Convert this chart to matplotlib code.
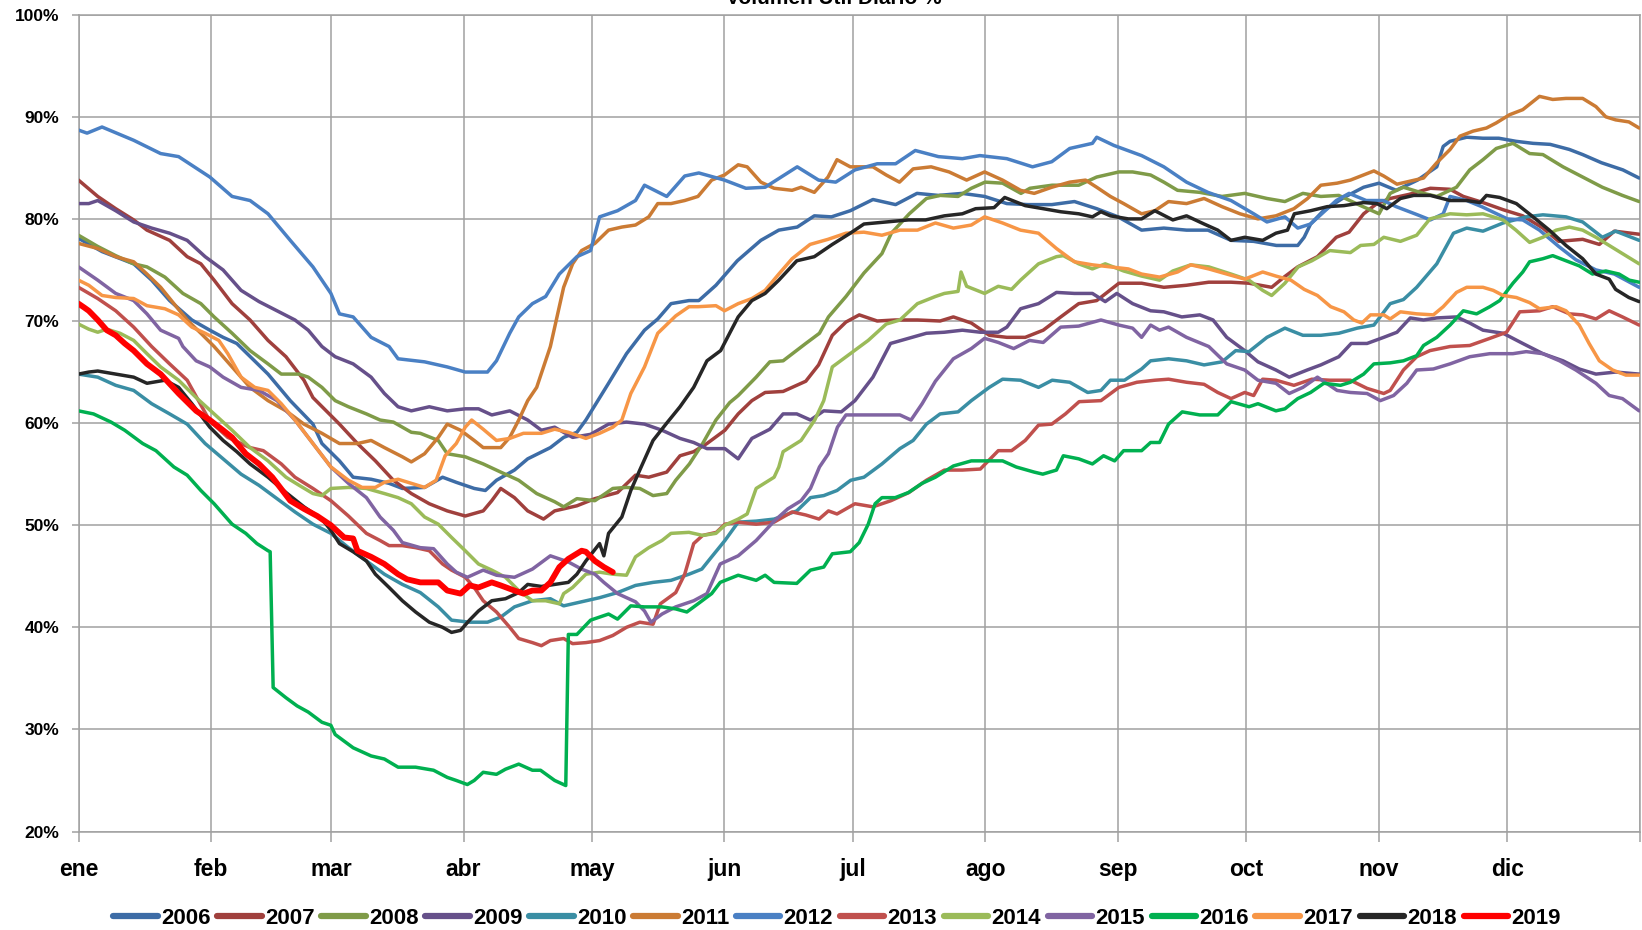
import matplotlib
matplotlib.use("Agg")
import matplotlib.pyplot as plt

plt.rcParams['font.family'] = ['Liberation Sans', 'DejaVu Sans']

MONTH_LABELS = ["ene", "feb", "mar", "abr", "may", "jun", "jul", "ago", "sep", "oct", "nov", "dic"]
MONTH_STARTS = [0, 31, 59, 90, 120, 151, 181, 212, 243, 273, 304, 334]
YEAR_END = 365
Y_TICKS = [20, 30, 40, 50, 60, 70, 80, 90, 100]

# (day of year, % volume)
S2006 = [(0,78.1),(5.5,76.8),(12.9,75.6),(17.1,74.0),(21.3,72.0),(26.5,70.1),(30.7,69.1),(33.8,68.4),(37,67.8),(44.3,64.8),
         (49.5,62.2),(54.8,59.9),(56.9,58.0),(61,56.3),(64.2,54.7),(68.4,54.5),(72.6,54.1),(75.7,53.6),(80.9,53.7),(85.1,54.7),
         (88.3,54.2),(92.5,53.6),(95.1,53.4),(97.7,54.4),(101.9,55.4),(105,56.5),(110.3,57.6),(113.4,58.6),(116.5,59.1),(118.6,60.3),
         (123.9,63.9),(128.1,66.8),(132.3,69.1),(135.4,70.2),(138.5,71.7),(142.7,72.0),(145,72.0),(149,73.5),(154,75.9),(159.5,77.9),
         (163.7,78.9),(168,79.2),(172,80.3),(176,80.2),(180.4,80.8),(185.7,81.9),(191,81.4),(196,82.5),(201,82.3),(206.6,82.5),
         (211.8,82.2),(217,81.5),(222,81.4),(227.5,81.4),(232.8,81.7),(238,81.0),(243,80.2),(248.5,78.9),(253.7,79.1),(259,78.9),
         (264,78.9),(269.4,77.9),(274.7,77.8),(280,77.4),(285,77.4),(286.5,78.2),(288,79.5),(291,80.8),(295.8,82.1),(300.4,83.1),
         (304,83.5),(308,82.8),(313,83.8),(317.5,85.1),(319,87.1),(320.6,87.6),(324.5,88.0),(328.3,87.9),(332,87.9),(336,87.6),
         (340,87.4),(344,87.3),(348.5,86.8),(351.6,86.3),(356,85.5),(361,84.8),(364.8,84.0)]

S2007 = [(0,83.8),(4.5,82.2),(8.7,81.0),(12.9,79.9),(16,78.9),(21.3,77.9),(25.4,76.3),(28.6,75.6),(31.7,74.0),(35.9,71.7),
         (40.1,70.1),(44.3,68.1),(48.5,66.5),(52.7,64.2),(54.8,62.5),(61,59.9),(65.2,58.0),(69.4,56.3),(73.6,54.4),(77.8,53.1),
         (82,52.1),(86.2,51.4),(90.4,50.9),(94.6,51.4),(96.6,52.4),(98.7,53.6),(101.9,52.7),(105,51.4),(108.7,50.6),(111.3,51.4),
         (116.5,51.9),(120.7,52.6),(126,53.2),(130.2,54.9),(133.3,54.7),(137.5,55.2),(140.6,56.8),(143.8,57.2),(146.9,58.0),(151.1,59.3),
         (154.2,60.9),(157.4,62.2),(160.5,63.0),(164.7,63.1),(170,64.1),(173,65.7),(176.2,68.6),(179.4,69.9),(182.5,70.6),(186.7,70.0),
         (190.9,70.1),(196.1,70.1),(201.4,70.0),(204.5,70.4),(208.7,69.8),(212.9,68.6),(217,68.4),(221.3,68.4),(225.5,69.1),(229.6,70.4),
         (233.8,71.7),(238,72.0),(243.2,73.7),(248.5,73.7),(253.7,73.3),(259,73.5),(264.2,73.8),(269.4,73.8),(273.6,73.7),(278.9,73.3),
         (281.8,74.3),(285,75.3),(289.6,76.3),(294,78.2),(297,78.7),(300.4,80.5),(303.5,81.5),(306.6,82.0),(311,82.4),(316,83.0),
         (320.6,82.9),(323.7,82.2),(328.3,81.6),(333,80.9),(337.6,80.3),(342.3,79.1),(346,77.8),(351.6,78.0),(355.5,77.5),(359,78.8),
         (364.8,78.5)]

S2008 = [(0,78.4),(4.5,77.3),(8.7,76.4),(12.9,75.6),(16,75.3),(20.2,74.3),(24.4,72.7),(28.6,71.7),(31.7,70.4),(35.9,68.8),
         (40.1,67.1),(44.3,65.8),(47.4,64.8),(51.6,64.8),(53.7,64.5),(56.9,63.5),(60,62.2),(63.1,61.6),(67.3,60.9),(70.5,60.3),
         (73.6,60.1),(77.8,59.1),(79.9,59.0),(84.1,58.3),(86.2,57.0),(90.4,56.7),(94.6,56.0),(98.7,55.2),(102.9,54.4),(107.1,53.1),
         (111.3,52.3),(113.4,51.8),(116.5,52.6),(120.7,52.4),(124.9,53.6),(128.1,53.7),(131.2,53.6),(134.3,52.9),(137.5,53.1),(139.6,54.4),
         (142.8,56.0),(145.9,58.0),(149,60.3),(152.2,62.0),(154.2,62.7),(158.4,64.5),(161.6,66.0),(164.7,66.1),(170,67.8),(173.2,68.8),
         (175.3,70.4),(179.4,72.4),(183.6,74.7),(187.8,76.6),(190,78.6),(194.2,80.5),(198.2,82.0),(201.4,82.3),(205.6,82.2),(208.7,83.0),
         (211.9,83.6),(216,83.5),(220.3,82.5),(222.4,83.0),(227.6,83.3),(233.8,83.3),(238,84.1),(243.2,84.6),(246.4,84.6),(250.6,84.3),
         (253.7,83.6),(256.9,82.8),(262.1,82.6),(267.3,82.2),(272.6,82.5),(277.8,82.0),(282,81.7),(286.2,82.5),(290.4,82.2),(294.6,82.3),
         (299.7,81.3),(304,80.5),(306.6,82.5),(309.7,83.1),(314.4,82.5),(317.5,82.2),(322.1,83.1),(325.2,84.8),(328.3,85.8),(331.4,86.9),
         (335.3,87.4),(339.2,86.4),(342.3,86.3),(347,85.1),(351.6,84.1),(356.2,83.1),(360.9,82.3),(364.8,81.7)]

S2009 = [(0,81.5),(2.4,81.5),(4.5,81.8),(8.7,80.8),(12.9,79.7),(17.1,79.1),(21.3,78.6),(25.4,77.9),(29.6,76.3),(33.8,75.0),
         (38,73.0),(42.2,71.9),(46.4,71.0),(50.6,70.1),(53.7,69.1),(56.9,67.5),(60,66.5),(64.2,65.8),(68.4,64.5),(71.5,62.9),
         (74.7,61.6),(77.8,61.2),(82,61.6),(86.2,61.2),(90.4,61.4),(93.5,61.4),(96.6,60.8),(100.8,61.2),(105,60.3),(108.2,59.3),
         (111.3,59.6),(115.5,58.6),(119.7,58.9),(123.9,59.9),(128.1,60.1),(132.3,59.9),(136.4,59.3),(140.6,58.5),(143.8,58.1),(146.9,57.5),
         (151.1,57.5),(154.2,56.5),(157.4,58.5),(161.6,59.4),(164.7,60.9),(167.9,60.9),(171.1,60.3),(174.2,61.2),(178.3,61.1),(181.5,62.2),
         (185.7,64.5),(189.8,67.8),(194,68.3),(198.2,68.8),(202.4,68.9),(206.6,69.1),(210.8,68.9),(215,68.9),(217,69.4),(220.2,71.2),
         (224.4,71.7),(228.6,72.8),(232.8,72.7),(237,72.7),(240,71.9),(242.7,72.7),(246.4,71.7),(250.6,71.0),(253.7,70.9),(257.9,70.4),
         (262.1,70.6),(265.2,70.1),(268.4,68.4),(272.6,67.1),(275.7,66.0),(279.9,65.2),(283,64.5),(287.2,65.2),(290.4,65.7),(294.6,66.5),
         (297.5,67.8),(301.2,67.8),(305.1,68.4),(308.2,68.9),(311.3,70.3),(314.4,70.1),(317.5,70.3),(322.1,70.4),(325.2,69.8),(328.3,69.1),
         (333,68.8),(337.6,67.8),(342.3,66.8),(347,66.1),(350.8,65.3),(354.7,64.8),(359.3,65.0),(364.8,64.8)]

S2010 = [(0,64.8),(4.5,64.5),(8.7,63.7),(12.9,63.2),(17.1,61.9),(21.3,60.9),(25.4,59.9),(29.6,58.0),(33.8,56.5),(38,55.0),
         (42.2,53.9),(46.4,52.6),(50.6,51.3),(54.8,50.1),(59,49.2),(63.1,47.8),(67.3,46.5),(71.5,45.2),(75.7,44.2),(79.9,43.4),
         (84.1,42.0),(87.2,40.7),(91.4,40.5),(95.6,40.5),(98.7,41.0),(101.9,42.0),(106.1,42.6),(110.3,42.8),(113.4,42.1),(117.6,42.5),
         (121.8,42.9),(126,43.4),(130.2,44.1),(134.3,44.4),(138.5,44.6),(142.7,45.2),(145.7,45.7),(148,46.9),(151.1,48.5),(154.2,50.3),
         (158.4,50.4),(162.6,50.6),(167.9,51.4),(171.1,52.7),(174.2,52.9),(177.3,53.4),(180.5,54.4),(183.6,54.7),(187.8,56.0),(192,57.5),
         (195.1,58.3),(198.2,59.9),(201.4,60.9),(205.6,61.1),(208.7,62.2),(212.9,63.5),(216,64.3),(220.2,64.2),(224.4,63.5),(227.6,64.2),
         (231.7,64.0),(235.9,63.0),(239,63.2),(241.2,64.2),(244.5,64.2),(248.5,65.3),(250.6,66.1),(254.8,66.3),(259,66.1),(263.1,65.7),
         (267.3,66.0),(270.5,67.1),(273.6,67.0),(277.8,68.4),(282,69.3),(286.2,68.6),(290.4,68.6),(294.6,68.8),(298.9,69.3),(302.8,69.6),
         (306.6,71.7),(309.7,72.1),(312.8,73.3),(317.5,75.6),(321.4,78.6),(324.5,79.1),(328.3,78.8),(333,79.6),(338.4,80.2),(342.3,80.4),
         (347.7,80.2),(351.6,79.7),(356.2,78.2),(359.3,78.8),(364.8,77.9)]

S2011 = [(0,77.6),(4.5,77.1),(8.7,76.3),(12.9,75.8),(16,74.6),(19.2,73.3),(22.3,71.7),(25.4,70.1),(28.6,68.8),(31.7,67.5),
         (35.9,65.5),(40.1,63.5),(44.3,62.2),(48.5,61.2),(52.7,59.9),(56.9,59.0),(61,58.0),(65.2,58.0),(68.4,58.3),(71.5,57.6),
         (75.7,56.7),(77.8,56.2),(80.9,57.0),(84.1,58.6),(86.2,59.9),(89.3,59.3),(92.5,58.3),(94.6,57.6),(98.7,57.6),(100.8,58.6),
         (102.9,60.3),(105,62.2),(107.1,63.5),(110.3,67.5),(113.4,73.3),(115.5,75.6),(117.6,76.9),(120.7,77.6),(123.9,78.9),(127,79.2),
         (130.2,79.4),(133.3,80.2),(135.4,81.5),(138.5,81.5),(141.7,81.8),(144.8,82.2),(148,83.8),(151,84.3),(154.2,85.3),(156.3,85.1),
         (159.5,83.6),(162.6,83.0),(166.8,82.8),(168.9,83.1),(172,82.6),(175.2,84.1),(177.3,85.8),(180.4,85.1),(185.7,85.1),(188.8,84.3),
         (191.9,83.6),(195.1,84.9),(199.3,85.1),(203.5,84.6),(207.6,83.8),(211.8,84.6),(216,83.8),(220.2,82.8),(223.4,82.5),(227.5,83.1),
         (231.7,83.6),(235.4,83.8),(238,83.1),(241.2,82.2),(244.3,81.5),(248.5,80.5),(251.6,80.8),(254.8,81.7),(259,81.5),(263.1,82.0),
         (267.3,81.2),(271.5,80.5),(275.7,80.0),(279.9,80.3),(284.1,81.0),(287.3,82.0),(290.4,83.3),(294.2,83.5),(297.3,83.8),(302.8,84.7),
         (305.1,84.2),(308.2,83.4),(311.3,83.7),(314.4,84.0),(317.5,85.5),(320.6,86.8),(322.9,88.1),(326,88.6),(329.1,88.9),(331.4,89.4),
         (334.5,90.2),(337.6,90.7),(341.5,92.0),(344.6,91.7),(347.7,91.8),(351.6,91.8),(354.7,91.0),(357,90.0),(359.3,89.7),(362.4,89.5),
         (364.8,88.9)]

S2012 = [(0,88.7),(2,88.4),(5.5,89.0),(12.9,87.7),(19.2,86.4),(23.4,86.1),(30.7,84.1),(35.9,82.2),(40.1,81.8),(44.3,80.5),
         (49.5,77.9),(54.8,75.3),(59,72.7),(61,70.7),(64.2,70.4),(68.4,68.4),(72.6,67.5),(74.7,66.3),(80.9,66.0),(86.2,65.5),
         (90.4,65.0),(95.6,65.0),(97.7,66.1),(100.8,68.8),(102.9,70.4),(106.1,71.7),(109.2,72.4),(112.4,74.6),(116.5,76.3),(119.7,76.9),
         (121.8,80.2),(126,80.8),(130.2,81.8),(132.3,83.3),(137.5,82.2),(141.7,84.2),(145,84.5),(151,83.8),(156,83.0),(160.5,83.1),
         (168,85.1),(173,83.8),(177,83.6),(181.5,84.8),(186.7,85.4),(191,85.4),(195.6,86.7),(201,86.1),(206.6,85.9),(210.7,86.2),
         (217,85.9),(223,85.1),(227.5,85.6),(231.7,86.9),(237,87.4),(238,88.0),(242,87.2),(248.5,86.2),(253.7,85.1),(259,83.6),
         (264,82.6),(269.4,81.8),(274.7,80.5),(277.8,79.7),(282,80.2),(285,79.1),(288,79.5),(294,81.8),(297,82.5),(301,81.8),
         (305,81.8),(308,81.2),(313,80.4),(316,79.9),(319,80.5),(320.6,82.2),(324.5,81.8),(328,81.2),(334,80.0),(337.6,79.9),
         (341.5,78.9),(346,77.3),(350,76.0),(354.7,75.0),(359,74.6),(364.8,73.3)]

S2013 = [(0,73.3),(4.5,72.2),(8.7,71.0),(12.9,69.4),(17.1,67.5),(21.3,65.8),(25.4,64.2),(30.7,60.2),(34.9,58.6),(40.1,57.6),
         (43.2,57.3),(47.4,56.0),(50.6,54.7),(54.8,53.6),(59,52.4),(63.1,50.9),(67.3,49.2),(70.5,48.5),(72.6,48.0),(75.7,48.0),
         (78.8,47.8),(82,47.5),(85.1,46.2),(87.2,45.6),(90.4,44.9),(92.5,43.9),(94.6,42.6),(97.7,41.5),(100.8,40.0),(102.9,38.9),
         (106.1,38.5),(108.2,38.2),(110.3,38.7),(113.4,38.9),(115.5,38.4),(118.6,38.5),(121.8,38.7),(124.9,39.2),(128.1,40.0),(131.2,40.5),
         (134.3,40.3),(136,42.3),(139.6,43.4),(141.7,45.2),(143.8,48.2),(145.9,49.0),(149.1,49.3),(151.1,50.1),(154.2,50.3),(158.4,50.1),
         (162.6,50.3),(166.8,51.3),(170,51.0),(173.1,50.6),(175.3,51.4),(177.3,51.1),(179.4,51.6),(181.5,52.1),(185.7,51.8),(189.9,52.4),
         (194.1,53.2),(198.2,54.4),(202.4,55.4),(206.6,55.4),(210.8,55.5),(215,57.3),(218.1,57.3),(221.3,58.3),(224.4,59.8),(227.5,59.9),
         (230.7,60.9),(233.9,62.1),(239,62.2),(243.2,63.5),(247.4,64.0),(251.6,64.2),(254.8,64.3),(259,64.0),(263.1,63.8),(266.3,63.0),
         (269.4,62.4),(272.6,63.0),(274.7,62.7),(276.8,64.3),(279.9,64.2),(284.1,63.7),(288.3,64.3),(292.5,64.2),(297.3,64.2),(301.2,63.4),
         (305.1,62.9),(306.6,63.2),(309.7,65.2),(312.8,66.5),(315.9,67.1),(320.6,67.5),(325.2,67.6),(329.9,68.3),(333.8,68.9),(336.9,70.9),
         (341.5,71.0),(344.6,71.4),(348.5,70.7),(351.6,70.6),(354.7,70.2),(357.8,71.0),(360.9,70.4),(364.8,69.6)]

S2014 = [(0,69.7),(2.4,69.2),(4.5,68.9),(6.6,69.2),(9.7,68.8),(12.9,68.1),(16,66.8),(19.2,65.5),(23.4,64.2),(27.5,62.5),
         (31.7,60.9),(35.9,59.3),(40.1,57.6),(44.3,56.3),(48.5,54.7),(51.6,53.9),(54.8,53.1),(56.9,52.9),(59,53.6),(63.1,53.7),
         (67.3,53.6),(71.5,53.1),(74.7,52.7),(77.8,52.1),(80.9,50.8),(84.1,50.1),(87.2,48.8),(90.4,47.5),(93.5,46.2),(96.6,45.6),
         (99.8,44.9),(102.9,43.6),(106.1,42.6),(109.2,42.6),(112.4,42.3),(113.4,43.3),(115.5,43.9),(118.6,45.2),(121.8,45.4),(124.9,45.2),
         (128.1,45.1),(130.2,46.9),(133.3,47.8),(136.4,48.5),(138.5,49.2),(142.7,49.3),(145.9,49.0),(149,49.2),(151.1,50.0),(154.2,50.6),
         (156.3,51.1),(158.4,53.6),(162.6,54.7),(163.7,55.7),(164.7,57.2),(168.9,58.3),(172.1,60.3),(174.2,62.2),(176.2,65.5),(180.4,66.8),
         (184.6,68.1),(188.8,69.7),(192,70.1),(196.1,71.7),(200.3,72.4),(202.4,72.7),(205.6,72.9),(206.3,74.8),(207.6,73.4),(211.8,72.7),
         (215,73.4),(218.1,73.1),(220.2,74.0),(224.4,75.6),(228.6,76.3),(230.2,76.4),(233.8,75.6),(237,75.1),(240,75.6),(244.3,74.9),
         (248.5,74.4),(252.7,74.0),(255.8,74.9),(260,75.5),(264.2,75.3),(269.4,74.6),(273.6,74.0),(276.8,73.0),(278.9,72.5),(282,73.7),
         (285.1,75.3),(288.3,75.9),(292.5,76.9),(297.3,76.7),(299.7,77.4),(302.8,77.5),(305.1,78.2),(309,77.8),(312.8,78.4),(315.9,80.0),
         (320.6,80.5),(324.5,80.4),(328.3,80.5),(333,79.9),(336,78.9),(339.2,77.7),(342.3,78.2),(345.4,78.9),(348.5,79.2),(351.6,78.9),
         (354.7,78.2),(357.8,77.4),(360.9,76.6),(364.8,75.6)]

S2015 = [(0,75.3),(4.5,74.0),(8.7,72.7),(12.9,72.0),(16,70.7),(19.2,69.1),(23.4,68.3),(24.4,67.5),(27.5,66.1),(30.7,65.5),
         (33.8,64.5),(38,63.5),(42.2,63.2),(46.4,62.2),(50.6,60.3),(54.8,58.0),(59,55.7),(63.1,54.1),(67.3,52.7),(70.5,50.8),
         (73.6,49.5),(75.7,48.3),(79.9,47.8),(83,47.7),(86.2,46.2),(88.3,45.4),(90.9,44.9),(94.6,45.6),(97.7,45.1),(101.9,44.9),
         (106.1,45.7),(110.3,47.0),(114.5,46.4),(117.6,45.7),(120.7,45.2),(122.8,44.4),(126,43.3),(130.2,42.5),(132.3,41.6),(133.8,40.5),
         (136.4,41.3),(139.6,42.0),(143.8,42.6),(146.9,43.3),(150,46.2),(154.2,47.0),(158.4,48.5),(162.6,50.4),(165.8,51.6),(168.9,52.4),
         (171.1,53.6),(173.2,55.7),(175.3,57.0),(177.4,59.6),(179.4,60.8),(183.6,60.8),(187.8,60.8),(192,60.8),(194.6,60.3),(197.2,61.9),
         (200.3,64.1),(204.5,66.3),(208.7,67.3),(211.8,68.3),(215,67.9),(218.6,67.3),(222.3,68.1),(225.5,67.9),(229.6,69.4),(233.8,69.5),
         (239,70.1),(243.2,69.6),(246.4,69.3),(248.5,68.4),(250.6,69.6),(252.7,69.1),(254.8,69.4),(259,68.4),(264.2,67.5),(268.4,65.8),
         (272.6,65.2),(275.7,64.2),(279.9,63.9),(283,62.9),(286.2,63.5),(289.6,64.5),(294.2,63.2),(297.3,63.0),(301.2,62.9),(304.3,62.2),
         (307.4,62.7),(310.5,63.9),(312.8,65.2),(316.7,65.3),(320.6,65.8),(325.2,66.5),(329.9,66.8),(335.3,66.8),(338.4,67.0),(342.3,66.8),
         (346.2,66.1),(350,65.2),(354.7,63.9),(357.8,62.7),(360.9,62.4),(364.8,61.2)]

S2016 = [(0,61.2),(3.5,60.9),(7.6,60.1),(10.8,59.3),(15,58.0),(18.1,57.3),(22.3,55.7),(25.4,54.9),(28.6,53.4),(31.7,52.1),
         (35.9,50.1),(39.1,49.2),(41.7,48.2),(44.3,47.5),(44.8,47.4),(45.5,34.1),(48.5,33.1),(51.1,32.3),(53.7,31.7),(56.9,30.7),
         (59,30.4),(60,29.5),(64.2,28.2),(68.4,27.4),(71.5,27.1),(74.7,26.3),(78.8,26.3),(83,26.0),(86.2,25.3),(88.3,25.0),
         (90.9,24.6),(92.5,25.0),(94.6,25.8),(97.7,25.6),(99.8,26.1),(102.9,26.6),(106.1,26.0),(108,26.0),(111.3,25.0),(113.9,24.5),
         (114.5,39.3),(116.5,39.3),(119.7,40.7),(123.9,41.3),(126,40.8),(129.1,42.1),(132.3,42.0),(136.4,42.0),(139.6,41.8),(142.2,41.5),
         (144.8,42.3),(148,43.3),(150,44.4),(154.2,45.1),(158.4,44.6),(160.5,45.1),(162.6,44.4),(167.9,44.3),(171.1,45.6),(174.2,45.9),
         (176.2,47.2),(180.4,47.4),(182.5,48.3),(184.6,50.1),(186.2,52.1),(187.8,52.7),(190.9,52.7),(194,53.2),(197.2,54.1),(200.3,54.7),
         (204.5,55.8),(208.7,56.3),(212.9,56.3),(216,56.3),(219.2,55.7),(223.4,55.2),(225.4,55.0),(228.6,55.4),(230.2,56.8),(233.8,56.5),
         (237,56.0),(239.6,56.8),(242.2,56.3),(244.3,57.3),(248.5,57.3),(250.6,58.1),(252.7,58.1),(254.8,59.9),(258,61.1),(262.1,60.8),
         (266.3,60.8),(269.4,62.1),(273.6,61.6),(275.7,61.9),(279.9,61.2),(282,61.4),(285,62.4),(288,63.0),(291.1,63.9),(295,63.7),
         (297.3,64.0),(300.4,64.8),(302.8,65.8),(306.6,65.9),(309.7,66.1),(312.8,66.6),(314.4,67.6),(317.5,68.4),(320.6,69.6),(323.7,71.0),
         (326.8,70.7),(329.9,71.4),(332.2,72.0),(335.3,73.7),(337.6,74.8),(339.2,75.8),(342.3,76.1),(344.6,76.4),(347.7,75.9),(350.8,75.4),
         (353.9,74.6),(357,74.9),(360.1,74.6),(362.5,74.0),(364.8,73.8)]

S2017 = [(0,74.0),(2.4,73.5),(5.5,72.5),(8.7,72.3),(12.9,72.2),(16,71.5),(20.2,71.2),(23.4,70.6),(26.5,69.4),(29.6,68.8),
         (32.8,68.1),(34.9,66.8),(38,64.5),(41.2,63.5),(44.3,63.2),(47.4,61.9),(50.6,60.3),(54.8,58.0),(59,55.7),(63.1,54.4),
         (66.3,53.7),(69.4,53.7),(71.5,54.2),(74.7,54.5),(77.8,54.1),(80.9,53.7),(83.6,54.4),(85.7,56.8),(88.3,58.0),(90.4,59.6),
         (91.9,60.3),(94.6,59.4),(97.7,58.3),(100.8,58.5),(104,59.0),(108.2,59.0),(111.3,59.4),(114.5,59.1),(118.6,58.5),(121.8,59.0),
         (124.9,59.6),(127,60.3),(129.1,62.9),(132.3,65.5),(135.4,68.8),(139.6,70.5),(142.7,71.4),(144.8,71.4),(149,71.5),(151,71.0),
         (154.2,71.7),(157.4,72.2),(160.5,73.0),(163.7,74.6),(166.8,76.1),(171,77.5),(175.2,78.0),(179.4,78.6),(183.6,78.7),(187.8,78.4),
         (192,78.9),(196.1,78.9),(200.3,79.6),(204.5,79.1),(208.7,79.4),(211.8,80.2),(216,79.6),(220.2,78.9),(224.4,78.6),(228.6,77.1),
         (232.8,75.8),(237,75.5),(241.2,75.3),(245.4,75.1),(248.5,74.6),(252.7,74.3),(256.9,74.8),(260,75.5),(264.2,75.1),(268.4,74.6),
         (272.6,74.1),(276.8,74.8),(279.9,74.4),(283.4,74.0),(286.5,73.1),(289.6,72.5),(292.7,71.4),(295.8,70.9),(298.1,70.1),(300,69.8),
         (302,70.6),(305.1,70.6),(306.6,70.2),(309,70.9),(312.8,70.7),(316.7,70.6),(319,71.4),(322.1,72.8),(324.5,73.3),(328.3,73.3),
         (330.7,73.0),(333,72.5),(336.1,72.3),(339.2,71.8),(341.5,71.2),(345.4,71.4),(347.7,71.0),(350.8,69.6),(353.1,67.8),(355.5,66.1),
         (358.6,65.2),(361.7,64.7),(364.8,64.7)]

S2018 = [(0,64.8),(2.4,65.0),(4.5,65.1),(8.7,64.8),(12.9,64.5),(16,63.9),(20.2,64.2),(23.4,63.5),(26.5,61.9),(30.7,59.6),
         (33.8,58.3),(37,57.2),(40.1,56.0),(44.3,54.7),(48.5,53.2),(52.7,51.8),(56.9,50.6),(59,49.5),(61,48.2),(64.2,47.4),
         (67.3,46.5),(69.4,45.2),(72.6,43.9),(75.7,42.6),(78.8,41.5),(82,40.5),(85.1,40.0),(87.2,39.5),(89.3,39.7),(91.4,40.7),
         (93.5,41.6),(96.6,42.6),(99.8,42.8),(102.9,43.4),(105,44.2),(108.2,44.0),(111.3,44.2),(114.5,44.4),(116.5,45.2),(118.6,46.5),
         (121.8,48.2),(122.8,47.0),(123.9,49.2),(127,50.8),(129.1,53.4),(131.2,55.4),(134.3,58.3),(137.5,60.0),(140.6,61.6),(143.8,63.5),
         (146.9,66.1),(150.1,67.1),(152.2,68.8),(154.2,70.4),(157.4,72.0),(160.5,72.7),(163.7,74.0),(167.9,75.9),(172,76.3),(176.2,77.5),
         (180.4,78.6),(183.6,79.5),(188.8,79.7),(194,79.9),(198,79.9),(202.4,80.3),(206.6,80.5),(209.7,81.0),(214,81.1),(216.5,82.1),
         (221.3,81.3),(225.5,81.0),(229.6,80.7),(233.8,80.5),(237,80.2),(239,80.7),(241.2,80.3),(245.4,80.0),(248.5,80.0),(251.6,80.8),
         (255.8,79.9),(259,80.3),(263.1,79.5),(266.3,78.9),(269.4,77.9),(272.6,78.2),(276.8,77.9),(279.9,78.6),(282.6,78.9),(284.2,80.5),
         (288,80.8),(291.9,81.2),(295.8,81.3),(300.4,81.6),(303.5,81.5),(305.8,81.0),(309,82.0),(312.1,82.3),(316,82.3),(320.6,81.8),
         (324.5,81.8),(327.6,81.6),(329.1,82.3),(332.2,82.1),(336.1,81.5),(340,80.2),(343.8,78.9),(347.7,77.4),(351.6,76.1),(354.7,74.6),
         (357.8,74.1),(359.3,73.1),(362.4,72.3),(364.8,71.9)]

S2019 = [(0,71.7),(1.4,71.3),(2.4,71.0),(4.5,70.1),(6.6,69.1),(8.7,68.6),(10.8,67.8),(12.9,67.1),(16,65.8),(19.2,64.8),
         (23.4,62.9),(27.5,61.2),(30.7,60.3),(33.8,59.3),(35.9,58.6),(39.1,57.0),(42.2,56.0),(45.3,54.7),(49.5,52.4),(52.7,51.6),
         (55.8,50.9),(59,50.0),(62.1,48.8),(64.2,48.7),(65.2,47.5),(68.4,46.9),(71.5,46.2),(74.7,45.2),(76.8,44.7),(79.9,44.4),
         (84.1,44.4),(86.2,43.6),(89.3,43.3),(91.4,44.1),(93.5,43.9),(96.6,44.4),(98.7,44.1),(101.9,43.6),(104,43.3),(106.1,43.6),
         (108.2,43.6),(110.3,44.4),(112.4,45.9),(114.5,46.7),(117.6,47.5),(118.6,47.4),(120.7,46.5),(122.8,45.9),(124.9,45.4)]

YEARS = ["2006", "2007", "2008", "2009", "2010", "2011", "2012", "2013", "2014", "2015", "2016", "2017", "2018", "2019"]
SERIES = [S2006, S2007, S2008, S2009, S2010, S2011, S2012, S2013, S2014, S2015, S2016, S2017, S2018, S2019]
COLORS = ["#3D6CA6", "#A0403D", "#7F9B48", "#66508A", "#3A8EA4", "#CB7B34", "#4A80C4",
          "#C0504D", "#9BBB59", "#8064A2", "#00B050", "#F79646", "#262626", "#FF0000"]

W, H = 1642, 930
fig = plt.figure(figsize=(W / 100, H / 100), dpi=100)
ax = fig.add_axes([78.5 / W, 1 - 831.5 / H, (1640 - 78.5) / W, (831.5 - 14.7) / H])

grid_c = "#A0A0A0"
for yr, pts, col in zip(YEARS, SERIES, COLORS):
    xs = [p[0] for p in pts]
    ys = [p[1] for p in pts]
    lw = 4.2 if yr == "2019" else 2.5
    ax.plot(xs, ys, color=col, lw=lw, label=yr, solid_joinstyle="round", solid_capstyle="round", zorder=3)

ax.set_xlim(0, YEAR_END)
ax.set_ylim(20, 100)
ax.set_xticks(MONTH_STARTS + [YEAR_END])
ax.set_xticklabels(MONTH_LABELS + [""])
ax.set_yticks(Y_TICKS)
ax.set_yticklabels([f"{v}%" for v in Y_TICKS])
ax.grid(True, color=grid_c, lw=1.1, zorder=1)
for s in ax.spines.values():
    s.set_color(grid_c)
    s.set_linewidth(1.1)
ax.tick_params(axis="x", length=7, width=1.1, color=grid_c, pad=12, labelsize=16.5)
ax.tick_params(axis="y", length=5, width=1.1, color=grid_c, pad=9, labelsize=12.5)
for lbl in ax.get_xticklabels() + ax.get_yticklabels():
    lbl.set_fontweight("bold")

fig.text(0.508, 1 - 3.5 / H, "Volumen Útil Diario %", ha="center", va="baseline",
         fontsize=15, fontweight="bold")

leg = fig.legend(loc="center", bbox_to_anchor=(837 / W, 1 - 918 / H), ncol=14, frameon=False,
                 prop={"weight": "bold", "size": 16}, handlelength=2.0, handletextpad=0.15,
                 columnspacing=0.3, borderaxespad=0)
for h in leg.get_lines():
    h.set_linewidth(4.5)

fig.savefig("out.png", dpi=100)
